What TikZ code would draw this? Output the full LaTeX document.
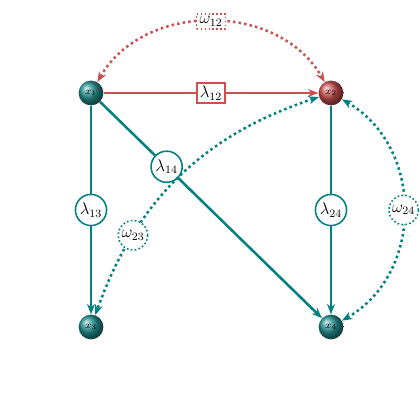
\documentclass[tikz,border=0pt]{standalone}
\usetikzlibrary{arrows.meta}
\definecolor{edgeteal}{RGB}{0,128,128}
\definecolor{edgered}{RGB}{205,80,80}
\tikzset{
  var/.style={circle, minimum size=0.62cm, inner sep=0pt, font=\scriptsize, ball color=edgeteal!85!white},
  varred/.style={var, ball color=edgered},
  tealedge/.style={line width=1.8pt, draw=edgeteal, -{Stealth[length=2.6mm, width=2mm]}},
  rededge/.style={tealedge, draw=edgered},
  tealdots/.style={line width=1.8pt, draw=edgeteal, dash pattern=on 1.8pt off 2.2pt, {Stealth[length=2.6mm, width=2mm]}-{Stealth[length=2.6mm, width=2mm]}},
  reddots/.style={tealdots, draw=edgered},
  lamcirc/.style={circle, draw=edgeteal, fill=white, line width=1.1pt, inner sep=1.2pt, font=\large, solid},
  lamrect/.style={rectangle, draw=edgered, fill=white, line width=1.1pt, inner sep=2pt, font=\large, solid},
  omcirc/.style={lamcirc, dash pattern=on 1.2pt off 1.6pt},
  omrect/.style={lamrect, dash pattern=on 1.2pt off 1.6pt},
}

\begin{document}
\begin{tikzpicture}
\useasboundingbox (0,0) rectangle (10.5,10.5);
\node[var] (x1) at (2.275,8.175) {$x_1$};
\node[varred] (x2) at (8.275,8.175) {$x_2$};
\node[var] (x3) at (2.275,2.325) {$x_3$};
\node[var] (x4) at (8.275,2.325) {$x_4$};
\draw[rededge] (x1) -- node[lamrect] {$\lambda_{12}$} (x2);
\draw[tealedge] (x1) -- node[lamcirc] {$\lambda_{13}$} (x3);
\draw[tealedge] (x2) -- node[lamcirc] {$\lambda_{24}$} (x4);
\draw[tealedge] (x1) -- node[lamcirc, pos=0.3] {$\lambda_{14}$} (x4);
\draw[reddots] (x1) to[bend left=60, looseness=1.05] node[omrect] {$\omega_{12}$} (x2);
\draw[tealdots] (x2) to[bend right=26] node[omcirc, pos=0.74] {$\omega_{23}$} (x3);
\draw[tealdots] (x2) to[bend left=60, looseness=1.1] node[omcirc] {$\omega_{24}$} (x4);
\end{tikzpicture}
\end{document}
